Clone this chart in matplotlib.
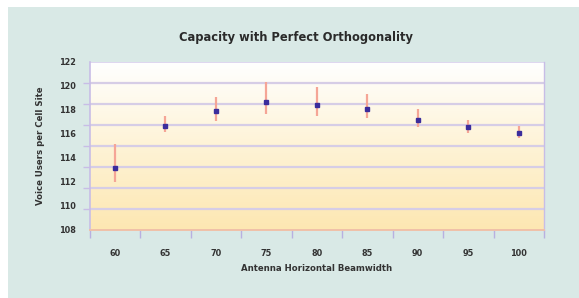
import numpy as np
import matplotlib
matplotlib.use("Agg")
import matplotlib.pyplot as plt
from matplotlib.colors import LinearSegmentedColormap

categories = ["60", "65", "70", "75", "80", "85", "90", "95", "100"]
values = [113.2, 116.7, 117.9, 118.7, 118.4, 118.1, 117.2, 116.6, 116.1]
upper = [115.2, 117.5, 119.1, 120.3, 119.9, 119.3, 118.1, 117.2, 116.7]
lower = [112.0, 116.2, 117.1, 117.7, 117.5, 117.3, 116.6, 116.1, 115.7]
ytick_labels = [108, 110, 112, 114, 116, 118, 120, 122]

font = ['DejaVu Sans']
tcol = '#333333'
fkw = dict(family=font, fontweight='bold', fontstretch='condensed', color=tcol)

fig = plt.figure(figsize=(5.79, 2.98), dpi=100)
fig.patch.set_facecolor('white')
fig.patches.append(plt.Rectangle((8/579, 0), 1, 1 - 7/298, transform=fig.transFigure,
                                 facecolor='#d9e9e6', edgecolor='none', zorder=-10))

ax = fig.add_axes([89.5/579, 68/298, 454.5/579, 168/298])
ax.set_facecolor('none')

cmap = LinearSegmentedColormap.from_list('g', ['#fde7b2', '#fef3d6', '#ffffff'])
grad = np.linspace(0, 1, 256).reshape(-1, 1)
ax.imshow(grad, extent=[0, 1, 0, 1], transform=ax.transAxes, origin='lower',
          cmap=cmap, aspect='auto', zorder=0)

x = np.arange(len(categories))
ax.set_xlim(-0.5, len(categories) - 0.5)
ax.set_ylim(ytick_labels[0], ytick_labels[-1])

grid_pos = np.linspace(ytick_labels[0], ytick_labels[-1], 9)
for g in grid_pos[1:-1]:
    ax.axhline(g, color='#d6cde6', lw=1.6, zorder=1)
ax.axhline(ytick_labels[-1], color='#d8d0ec', lw=1.2, zorder=1)

v = np.array(values)
yerr = np.array([v - np.array(lower), np.array(upper) - v])
ax.errorbar(x, v, yerr=yerr, fmt='none', ecolor='#f5a596', elinewidth=1.6,
            capsize=0, zorder=3)
ax.plot(x, v, 's', color='#3b2d9c', markersize=3, zorder=4)

ax.spines['top'].set_visible(False)
ax.spines['left'].set_color('#c8bde6')
ax.spines['left'].set_linewidth(1.2)
ax.spines['right'].set_color('#c8bde6')
ax.spines['right'].set_linewidth(1.0)
ax.spines['bottom'].set_color('#f0c0a8')
ax.spines['bottom'].set_linewidth(1.4)

ax.set_xticks(np.arange(-0.5, len(categories), 1.0))
ax.set_xticklabels([])
ax.set_xticks(x, minor=True)
ax.set_xticklabels(categories, minor=True, fontsize=6.5, **fkw)
ax.tick_params(axis='x', which='major', length=6, color='#b8b0e0', width=1, direction='out')
ax.tick_params(axis='x', which='minor', length=0, pad=14)

ax.set_yticks(ytick_labels)
ax.set_yticklabels([str(t) for t in ytick_labels], fontsize=6.5, **fkw)
ax.set_yticks(grid_pos, minor=True)
ax.tick_params(axis='y', which='major', length=0, pad=10)
ax.tick_params(axis='y', which='minor', length=5, color='#c8bde6', width=1, direction='out')

ax.set_xlabel('Antenna Horizontal Beamwidth', fontsize=6.8, labelpad=4, **fkw)
ax.set_ylabel('Voice Users per Cell Site', fontsize=6.8, labelpad=10, **fkw)
fig.text(296/579, 1 - 38/298, 'Capacity with Perfect Orthogonality', ha='center',
         va='center', fontsize=9.2, family=font, fontweight='bold',
         fontstretch='condensed', color='#2a2a2a')

fig.savefig('out.png', dpi=100)
